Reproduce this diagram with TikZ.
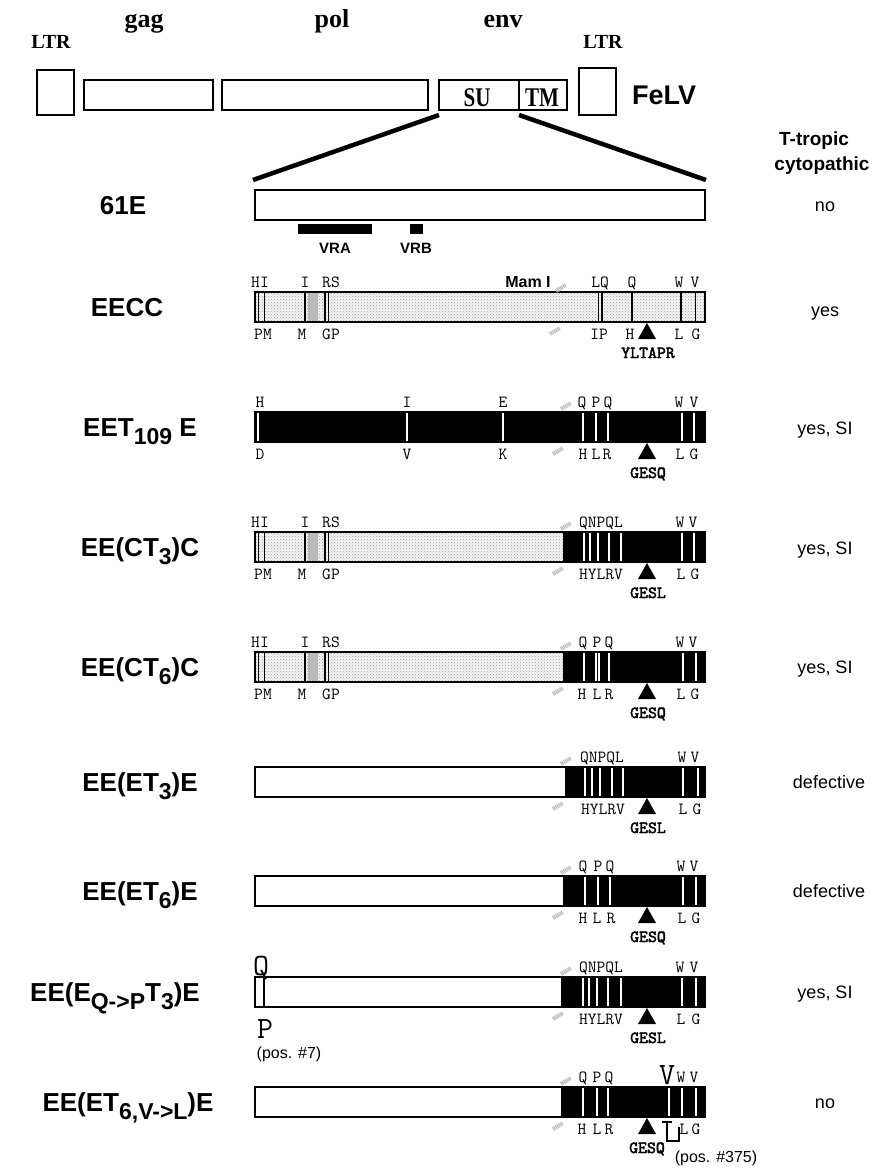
\documentclass[tikz,border=0pt]{standalone}
\usepackage{fontspec}
\setmainfont{Liberation Serif}
\setsansfont{Liberation Sans}
\newfontfamily\nserif[FakeStretch=0.78]{Liberation Serif}
\newfontfamily\mbold[FakeBold=2.5]{lmmono10-regular.otf}
\usetikzlibrary{patterns}
\newcommand\lowr[1]{\raisebox{-0.32em}{\fontsize{23}{23}\selectfont #1}}
\newcommand\Tri{\fill (647,\ry+16) -- (656,\ry+32) -- (638,\ry+32) -- cycle;}
\newcommand\Sq[2]{\draw[sqm] (#1-5,#2+3) -- (#1+5,#2-3);}
\newcommand\Top[2]{\node[mut] at (#1,\ry-20) {#2};}
\newcommand\Bot[2]{\node[mut] at (#1,\ry+32) {#2};}
\newcommand\Motif[1]{\node[mutb] at (648,\ry+51) {#1};}
\newcommand\DotPart[1]{%
  \fill[gray!8] (255,\ry-15) rectangle (#1,\ry+15);
  \fill[dotf] (255,\ry-15) rectangle (#1,\ry+15);
  \fill[gray!55] (308,\ry-15) rectangle (318,\ry+15);
  \foreach \x in {258.5,264.5,305,325,328.5} \draw[bl] (\x,\ry-15) -- (\x,\ry+15);}
\newcommand\DotLabels{\Top{260}{HI}\Top{305}{I}\Top{331}{RS}\Bot{263}{PM}\Bot{302}{M}\Bot{331}{GP}}
\newcommand\BlackPart[1]{\fill (#1,\ry-15) rectangle (705,\ry+15);}
\newcommand\Frame{\draw[rbox] (255,\ry-15) rectangle (705,\ry+15);}
\newcommand\Marks{\Sq{566}{\ry-21}\Sq{558}{\ry+24}}
\tikzset{
  gbox/.style={draw, line width=1.3pt},
  rbox/.style={draw, line width=1.3pt},
  wl/.style={white, line width=1.6pt},
  bl/.style={black, line width=1.3pt},
  zl/.style={line width=4.5pt},
  lab/.style={font=\sffamily\bfseries\fontsize{26}{26}\selectfont, inner sep=0pt, anchor=base},
  res/.style={font=\sffamily\fontsize{18}{18}\selectfont, inner sep=0pt, anchor=base},
  mut/.style={font=\ttfamily\fontsize{17}{17}\selectfont, inner sep=0pt, anchor=base},
  mutb/.style={font=\mbold\fontsize{17}{17}\selectfont, inner sep=0pt, anchor=base},
  bigl/.style={font=\ttfamily\fontsize{31}{31}\selectfont, inner sep=0pt, anchor=base},
  sqm/.style={gray!55, line width=4pt, dash pattern=on 1pt off 0.7pt},
  dotf/.style={pattern=crosshatch dots, pattern color=gray!75},
  gene/.style={font=\rmfamily\bfseries\fontsize{26}{26}\selectfont, inner sep=0pt, anchor=base},
  ltr/.style={font=\rmfamily\bfseries\fontsize{20}{20}\selectfont, inner sep=0pt, anchor=base},
  sut/.style={font=\nserif\bfseries\fontsize{27}{27}\selectfont, inner sep=0pt, anchor=base},
  hd/.style={font=\sffamily\bfseries\fontsize{19}{19}\selectfont, inner sep=0pt, anchor=base},
  vr/.style={font=\sffamily\bfseries\fontsize{15}{15}\selectfont, inner sep=0pt, anchor=base},
  posl/.style={font=\sffamily\fontsize{16}{16}\selectfont, inner sep=0pt, anchor=base},
}
\begin{document}
\begin{tikzpicture}[x=1pt,y=-1pt]
\useasboundingbox (0,0) rectangle (871,1168);
% ---------------- genome ----------------
\node[gene] (gag) at (144,27) {gag};
\node[gene] (pol) at (332,27) {pol};
\node[gene] (env) at (503,27) {env};
\node[ltr] (ltr1) at (51,48) {LTR};
\node[ltr] (ltr2) at (603,48) {LTR};
\draw[gbox] (37,70) rectangle (74,115);
\draw[gbox] (84,80) rectangle (213,110);
\draw[gbox] (222,80) rectangle (428,110);
\draw[gbox] (439,80) rectangle (567,110);
\draw[gbox] (519,80) -- (519,110);
\draw[gbox] (579,68) rectangle (616,115);
\node[sut] (su) at (477,106) {SU};
\node[sut] (tm) at (542,106) {TM};
\node[hd,font=\sffamily\bfseries\fontsize{27}{27}\selectfont] (felv) at (664,104) {FeLV};
\node[hd] (tt) at (814,145) {T-tropic};
\node[hd] (cy) at (822,170) {cytopathic};
\coordinate (suL) at (439,115);
\coordinate (tmL) at (519,115);
\coordinate (zL) at (253,180);
\coordinate (zR) at (706,180);
\draw[zl] (suL) -- (zL);
\draw[zl] (tmL) -- (zR);
% ---------------- 61E ----------------
\def\ry{205}
\Frame
\fill (298,224) rectangle (372,234);
\fill (410,224) rectangle (423,234);
\node[vr] (vra) at (335,253) {VRA};
\node[vr] (vrb) at (416,253) {VRB};
\node[lab] (l1) at (123,214) {61E};
\node[res] (r1) at (825,211) {no};
% ---------------- EECC ----------------
\def\ry{307}
\DotPart{705}
\foreach \x in {598.5,602,632,681,695.5} \draw[bl] (\x,\ry-15) -- (\x,\ry+15);
\Frame
\DotLabels
\Top{600}{LQ}\Top{632}{Q}\Top{679}{W}\Top{695}{V}
\Bot{599}{IP}\Bot{630}{H}\Bot{679}{L}\Bot{696}{G}
\node[vr,font=\sffamily\bfseries\fontsize{16}{16}\selectfont] (mam) at (528,287) {Mam I};
\Sq{561}{288}\Sq{555}{331}
\Tri \Motif{YLTAPR}
\node[lab] (l2) at (127,316) {EECC};
\node[res] (r2) at (825,316) {yes};
% ---------------- EET109E ----------------
\def\ry{427}
\fill (255,\ry-15) rectangle (705,\ry+15);
\foreach \x in {258,407,503,583,596,608,682,694} \draw[wl] (\x,\ry-14.3) -- (\x,\ry+14.3);
\Frame
\Top{260}{H}\Top{407}{I}\Top{503}{E}\Top{582}{Q}\Top{596}{P}\Top{608}{Q}\Top{679}{W}\Top{694}{V}
\Bot{260}{D}\Bot{407}{V}\Bot{503}{K}\Bot{583}{H}\Bot{596}{L}\Bot{607}{R}\Bot{680}{L}\Bot{694}{G}
\Marks \Tri \Motif{GESQ}
\node[lab] (l3) at (140,436) {EET\lowr{109} E};
\node[res] (r3) at (825,434) {yes, SI};
% ---------------- EE(CT3)C ----------------
\def\ry{547}
\DotPart{563}\BlackPart{563}
\foreach \x in {584,590,598,609,621,682,694} \draw[wl] (\x,\ry-14.3) -- (\x,\ry+14.3);
\Frame
\DotLabels
\Top{601}{QNPQL}\Top{680}{W}\Top{693}{V}
\Bot{601}{HYLRV}\Bot{681}{L}\Bot{695}{G}
\Marks \Tri \Motif{GESL}
\node[lab] (l4) at (140,556) {EE(CT\lowr{3})C};
\node[res] (r4) at (825,554) {yes, SI};
% ---------------- EE(CT6)C ----------------
\def\ry{667}
\DotPart{563}\BlackPart{563}
\foreach \x in {584,596,599,609,683,696} \draw[wl] (\x,\ry-14.3) -- (\x,\ry+14.3);
\Frame
\DotLabels
\Top{583}{Q}\Top{597}{P}\Top{609}{Q}\Top{680}{W}\Top{693}{V}
\Bot{582}{H}\Bot{597}{L}\Bot{609}{R}\Bot{681}{L}\Bot{695}{G}
\Marks \Tri \Motif{GESQ}
\node[lab] (l5) at (140,676) {EE(CT\lowr{6})C};
\node[res] (r5) at (825,673) {yes, SI};
% ---------------- EE(ET3)E ----------------
\def\ry{782}
\BlackPart{565}
\foreach \x in {585,592,600,612,623,683,698} \draw[wl] (\x,\ry-14.3) -- (\x,\ry+14.3);
\Frame
\Top{602}{QNPQL}\Top{682}{W}\Top{695}{V}
\Bot{603}{HYLRV}\Bot{683}{L}\Bot{697}{G}
\Marks \Tri \Motif{GESL}
\node[lab] (l6) at (140,791) {EE(ET\lowr{3})E};
\node[res] (r6) at (829,788) {defective};
% ---------------- EE(ET6)E ----------------
\def\ry{891}
\BlackPart{563}
\foreach \x in {585,598,610,683,696} \draw[wl] (\x,\ry-14.3) -- (\x,\ry+14.3);
\Frame
\Top{583}{Q}\Top{598}{P}\Top{610}{Q}\Top{681}{W}\Top{694}{V}
\Bot{583}{H}\Bot{597}{L}\Bot{611}{R}\Bot{682}{L}\Bot{696}{G}
\Marks \Tri \Motif{GESQ}
\node[lab] (l7) at (140,900) {EE(ET\lowr{6})E};
\node[res] (r7) at (829,897) {defective};
% ---------------- EE(EQ->PT3)E ----------------
\def\ry{992}
\BlackPart{561}
\foreach \x in {583,589,597,608,621,682,696} \draw[wl] (\x,\ry-14.3) -- (\x,\ry+14.3);
\Frame
\draw[bl] (264,\ry-15) -- (264,\ry+15);
\node[bigl] (bq) at (261,975) {Q};
\node[bigl] (bp) at (265,1038) {P};
\node[posl] (p7) at (289,1058) {(pos. \#7)};
\Top{601}{QNPQL}\Top{680}{W}\Top{694}{V}
\Bot{601}{HYLRV}\Bot{681}{L}\Bot{696}{G}
\Marks \Tri \Motif{GESL}
\node[lab] (l8) at (115,1001) {EE(E\lowr{Q->P}T\lowr{3})E};
\node[res] (r8) at (825,998) {yes, SI};
% ---------------- EE(ET6,V->L)E ----------------
\def\ry{1102}
\BlackPart{561}
\foreach \x in {583,597,608,669,682,696} \draw[wl] (\x,\ry-14.3) -- (\x,\ry+14.3);
\Frame
\Top{583}{Q}\Top{597}{P}\Top{609}{Q}\Top{681}{W}\Top{694}{V}
\Bot{582}{H}\Bot{597}{L}\Bot{609}{R}\Bot{684}{L}\Bot{696}{G}
\node[bigl] (bv) at (667,1084) {V};
\draw[line width=1.2pt] (662,1122) -- (672,1122);
\draw[line width=1.2pt] (667,1122) -- (667,1141) -- (679,1141) -- (679,1127);
\Marks \Tri
\node[mutb] (m9) at (647,1153) {GESQ};
\node[posl] (p375) at (716,1162) {(pos. \#375)};
\node[lab] (l9) at (128,1111) {EE(ET\lowr{6,V->L})E};
\node[res] (r9) at (825,1108) {no};
\end{tikzpicture}
\end{document}
